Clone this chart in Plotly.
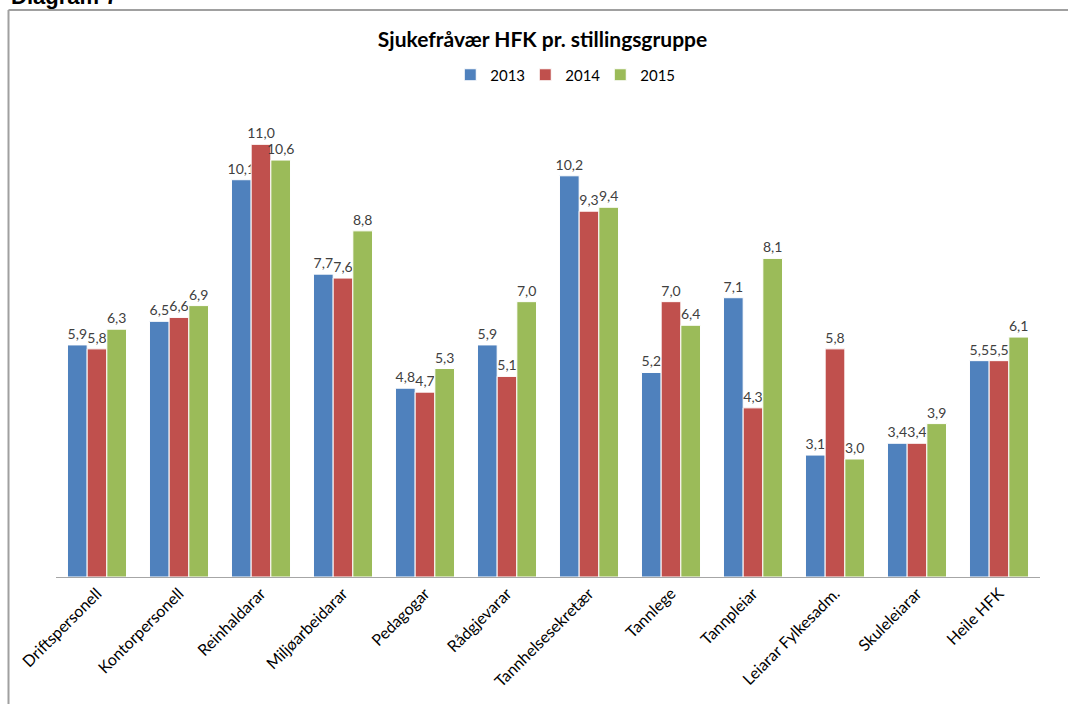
import plotly.graph_objects as go

categories = ["Driftspersonell", "Kontorpersonell", "Reinhaldarar", "Miljøarbeidarar",
              "Pedagogar", "Rådgjevarar", "Tannhelsesekretær", "Tannlege", "Tannpleiar",
              "Leiarar Fylkesadm.", "Skuleleiarar", "Heile HFK"]
v2013 = [5.9, 6.5, 10.1, 7.7, 4.8, 5.9, 10.2, 5.2, 7.1, 3.1, 3.4, 5.5]
v2014 = [5.8, 6.6, 11.0, 7.6, 4.7, 5.1, 9.3, 7.0, 4.3, 5.8, 3.4, 5.5]
v2015 = [6.3, 6.9, 10.6, 8.8, 5.3, 7.0, 9.4, 6.4, 8.1, 3.0, 3.9, 6.1]
series = [("2013", v2013, "#4F81BD"), ("2014", v2014, "#C0504D"), ("2015", v2015, "#9BBB59")]

FONT = "Lato"
fig = go.Figure()
for name, vals, col in series:
    fig.add_trace(go.Bar(
        x=categories, y=vals, name=name,
        marker=dict(color=col, line=dict(color="white", width=1)),
        text=[f"{v:.1f}".replace(".", ",") for v in vals],
        textposition="outside", cliponaxis=False, constraintext="none",
        textfont=dict(family=FONT, size=14, color="#404040"),
    ))

W, H = 1068, 704
L, R, T, B = 56, 28, 105, 127
pw, ph = W - L - R, H - T - B

def px(x):
    return (x - L) / pw

def py(y):
    return 1 - (y - T) / ph

fig.update_layout(
    width=W, height=H,
    margin=dict(l=L, r=R, t=T, b=B, autoexpand=False),
    paper_bgcolor="white", plot_bgcolor="white",
    barmode="group", bargap=0.28, bargroupgap=0.0,
    font=dict(family=FONT, color="#000000"),
    title=dict(text="<b>Sjukefråvær HFK pr. stillingsgruppe</b>", x=0.508, xanchor="center",
               y=1 - 40 / H, yanchor="middle", font=dict(family=FONT, size=21, color="#000000")),
    legend=dict(orientation="h", x=0.515, xanchor="center", y=py(75), yanchor="middle",
                font=dict(family=FONT, size=15, color="#000000"), itemwidth=30,
                entrywidth=30, traceorder="normal"),
    showlegend=True,
    xaxis=dict(showline=True, linecolor="#A6A6A6", linewidth=1, ticks="", tickangle=-45,
               tickfont=dict(family=FONT, size=16, color="#000000"), showgrid=False),
    yaxis=dict(range=[0, 12], visible=False, showgrid=False, zeroline=False),
    shapes=[
        dict(type="line", xref="paper", yref="paper", x0=px(8.5), x1=px(1080), y0=py(10), y1=py(10),
             line=dict(color="#A0A0A0", width=2)),
        dict(type="line", xref="paper", yref="paper", x0=px(8.5), x1=px(8.5), y0=py(10), y1=py(720),
             line=dict(color="#A0A0A0", width=2)),
    ],
    annotations=[
        dict(text="<b>Diagram 7</b>", xref="paper", yref="paper", x=px(9), y=py(-3),
             xanchor="left", yanchor="middle", showarrow=False,
             font=dict(family="Liberation Sans", size=22, color="#000000")),
    ],
)

fig.write_html("out.html", config={"displayModeBar": False},
               post_script="document.body.style.margin='0';document.body.style.overflow='hidden';")
